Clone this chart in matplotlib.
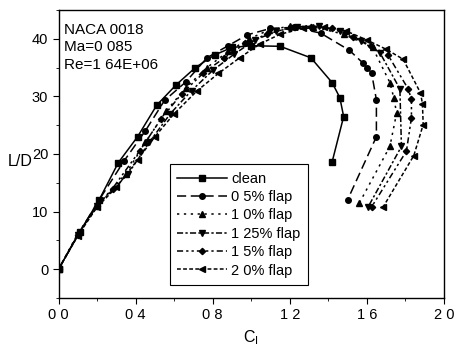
import matplotlib
matplotlib.use("Agg")
import matplotlib.pyplot as plt
from matplotlib.ticker import MultipleLocator

# ---- data ----
clean_x = [0, 0.11, 0.21, 0.31, 0.41, 0.51, 0.61, 0.71, 0.81, 0.90, 1.00, 1.15, 1.31, 1.42, 1.46, 1.48, 1.42]
clean_y = [0, 6.5, 12, 18.5, 23, 28.5, 32, 35, 37.2, 38.5, 38.8, 38.7, 36.7, 32.4, 29.8, 26.5, 18.6]

f05_x = [0, 0.11, 0.21, 0.34, 0.45, 0.55, 0.66, 0.77, 0.88, 0.98, 1.10, 1.22, 1.36, 1.51, 1.58, 1.60, 1.625, 1.65, 1.65, 1.50]
f05_y = [0, 6.5, 12, 18.8, 24, 29.3, 32.5, 36.7, 38.8, 40.7, 41.8, 42.0, 41.0, 38.0, 35.8, 35.0, 34.1, 29.4, 23.0, 12.0]

f10_x = [0, 0.10, 0.20, 0.35, 0.45, 0.56, 0.66, 0.77, 0.88, 0.99, 1.09, 1.20, 1.32, 1.48, 1.63, 1.72, 1.74, 1.755, 1.72, 1.56]
f10_y = [0, 6.2, 11, 16.6, 22, 27.5, 31.5, 35, 37.8, 40, 41.5, 42.2, 42.1, 40.8, 38.5, 32.4, 29.8, 27.1, 21.3, 11.4]

f125_x = [0, 0.10, 0.20, 0.36, 0.47, 0.58, 0.69, 0.80, 0.91, 1.02, 1.13, 1.24, 1.35, 1.46, 1.57, 1.668, 1.772, 1.78, 1.607]
f125_y = [0, 6, 11, 16.5, 22, 27, 31, 34.5, 37.3, 39.8, 41.3, 42.1, 42.2, 41.3, 39.6, 37.6, 31.3, 21.3, 10.8]

f15_x = [0, 0.10, 0.20, 0.28, 0.42, 0.53, 0.64, 0.75, 0.86, 0.97, 1.08, 1.20, 1.31, 1.42, 1.53, 1.62, 1.711, 1.815, 1.832, 1.832, 1.806, 1.625]
f15_y = [0, 6, 11, 14, 20.5, 26, 30.5, 34, 36.7, 39.2, 40.8, 41.9, 42.1, 41.8, 40.4, 38.8, 37.15, 31.3, 29.5, 26.3, 20.5, 10.8]

f20_x = [0, 0.10, 0.20, 0.30, 0.41, 0.50, 0.60, 0.72, 0.83, 0.94, 1.045, 1.15, 1.27, 1.38, 1.49, 1.60, 1.70, 1.789, 1.879, 1.889, 1.893, 1.844, 1.685]
f20_y = [0, 5.8, 10.8, 14.2, 19, 23, 27, 31, 34, 36.7, 39.1, 40.8, 41.8, 42.0, 41.4, 39.8, 38.2, 36.45, 30.6, 28.75, 25.1, 19.7, 10.8]

labels = ["clean", "0 5% flap", "1 0% flap", "1 25% flap", "1 5% flap", "2 0% flap"]
xticks = [0.0, 0.4, 0.8, 1.2, 1.6, 2.0]
xtick_labels = ["0 0", "0 4", "0 8", "1 2", "1 6", "2 0"]
yticks = [0, 10, 20, 30, 40]

plt.rcParams['font.family'] = ['Liberation Sans', 'DejaVu Sans']

fig = plt.figure(figsize=(4.58, 3.46), dpi=100)
ax = fig.add_axes([0.128, 0.139, 0.841, 0.832])

series = [
    (clean_x, clean_y, 's', '-'),
    (f05_x, f05_y, 'o', (0, (6, 3))),
    (f10_x, f10_y, '^', (0, (1.5, 3))),
    (f125_x, f125_y, 'v', (0, (4, 1.5, 1.5, 1.5))),
    (f15_x, f15_y, 'D', (0, (4, 2, 1.5, 2, 1.5, 2))),
    (f20_x, f20_y, '<', (0, (2.5, 1.5))),
]
for (x, y, m, ls), lab in zip(series, labels):
    ms = 3.2 if m == 'D' else 4.0
    ax.plot(x, y, color='black', linestyle=ls, linewidth=1.1, marker=m,
            markersize=ms, markerfacecolor='black', markeredgecolor='black', label=lab)

ax.set_xlim(0, 2.0)
ax.set_ylim(-5, 45)
ax.set_xticks(xticks)
ax.set_xticklabels(xtick_labels)
ax.set_yticks(yticks)
ax.xaxis.set_minor_locator(MultipleLocator(0.2))
ax.yaxis.set_minor_locator(MultipleLocator(5))
ax.tick_params(axis='both', which='major', direction='out', length=4, labelsize=10.5, right=False, top=False)
ax.tick_params(axis='both', which='minor', direction='out', length=2, right=False, top=False)
for s in ax.spines.values():
    s.set_linewidth(1.0)

ax.set_xlabel(r'C$_\mathrm{l}$', fontsize=11.5)
ax.set_ylabel('L/D', fontsize=11.5, rotation=0, va='center', ha='right')
ax.yaxis.set_label_coords(-0.068, 0.475)

ax.text(0.013, 0.955, "NACA 0018\nMa=0 085\nRe=1 64E+06", transform=ax.transAxes,
        ha='left', va='top', fontsize=11, linespacing=1.3)

leg = ax.legend(loc='lower left', bbox_to_anchor=(0.27, 0.02), fontsize=10.5,
                frameon=True, fancybox=False, edgecolor='black', framealpha=1,
                handlelength=3.4, handletextpad=0.3, borderpad=0.5, labelspacing=0.3)
leg.get_frame().set_linewidth(0.8)

fig.savefig("out.png", dpi=100)
